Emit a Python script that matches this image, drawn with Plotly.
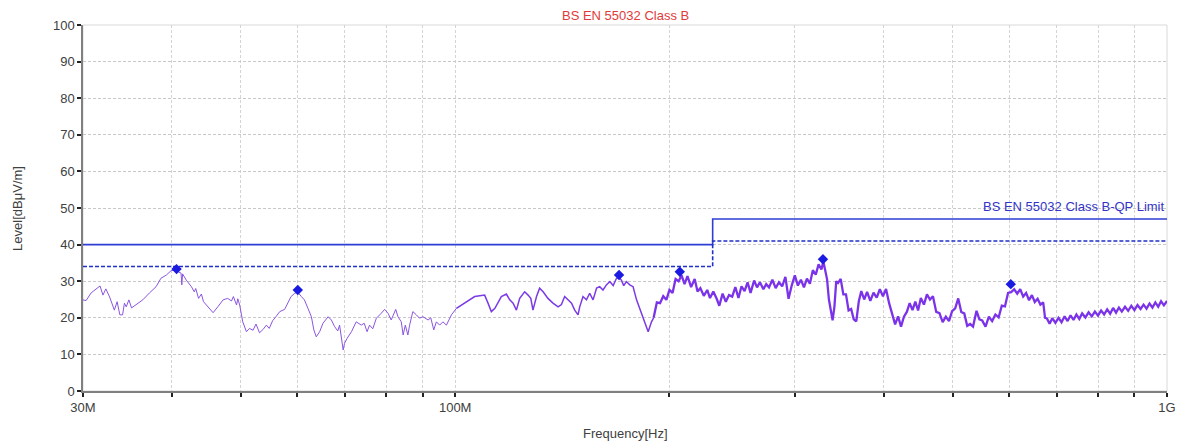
import numpy as np
import plotly.graph_objects as go

# ---------------- data (frequency in MHz, level in dBuV/m) ----------------
low_freq = [
    30.0, 30.3, 30.8, 31.4, 31.7, 32.0, 32.3, 32.7, 33.2, 33.5, 33.8, 34.1, 34.3, 34.5, 34.8, 35.1,
    35.6, 36.4, 37.2, 38.0, 38.6, 39.3, 39.9, 40.6, 40.8, 41.2, 41.3, 41.4, 41.9, 42.6, 43.0, 43.2,
    43.6, 44.0, 44.3, 44.7, 45.7, 46.4, 47.2, 47.9, 48.5, 48.8, 49.3, 49.5, 49.8, 50.3, 50.9, 51.4,
    52.0, 52.5, 53.1, 53.7, 54.3, 54.8, 55.4, 56.0, 56.7, 57.6, 58.2, 58.8, 59.5, 60.1, 60.8, 61.4,
    62.1, 62.8, 63.3, 63.8, 64.5, 65.2, 66.3, 67.0, 67.7, 68.4, 68.8, 69.2, 69.6, 69.9, 70.5, 71.5,
    72.6, 73.8, 74.5, 75.2, 75.8, 76.6, 77.5, 78.7, 79.6, 80.5, 81.3, 82.5, 83.1, 84.0, 84.5, 85.1,
    85.8, 86.3, 87.2, 88.2, 89.1, 90.1, 91.6, 92.4, 93.3, 94.1, 95.1, 96.1, 97.2, 98.8, 100.4,
]
low_level = [
    24.9, 24.7, 26.8, 28.1, 28.7, 26.2, 27.9, 25.7, 22.1, 24.4, 20.8, 20.8, 24.0, 23.0, 24.9, 22.7,
    23.5, 24.9, 26.8, 28.5, 30.8, 31.7, 32.9, 33.0, 32.6, 32.2, 29.0, 32.0, 30.3, 28.5, 27.1, 28.0,
    25.3, 26.5, 24.4, 23.5, 21.4, 23.0, 24.9, 25.3, 24.6, 25.8, 23.5, 25.2, 23.5, 18.9, 16.2, 17.1,
    16.6, 18.3, 15.9, 16.8, 18.0, 17.1, 19.2, 20.3, 21.7, 22.3, 24.0, 25.8, 26.7, 27.0, 25.8, 24.9,
    22.6, 20.3, 16.7, 14.8, 16.2, 18.5, 20.3, 19.4, 17.6, 16.4, 18.0, 14.4, 11.2, 13.0, 14.4, 16.2,
    18.9, 18.0, 18.5, 16.2, 18.0, 17.0, 19.9, 21.2, 22.3, 21.2, 19.4, 22.3, 20.3, 18.9, 15.3, 18.0,
    15.3, 18.0, 21.7, 20.8, 19.9, 20.3, 19.4, 20.0, 16.7, 18.9, 18.0, 18.9, 18.0, 20.8, 22.6,
]

mid_freq = [
    100.4, 102.0, 103.7, 104.8, 106.5, 108.3, 110.0, 111.2, 112.4, 113.7, 114.8, 116.1, 118.0, 119.3,
    120.6, 121.9, 123.2, 125.2, 126.6, 127.7, 128.6, 130.1, 131.4, 132.9, 135.0, 137.2, 139.5, 141.0,
    142.5, 144.1, 145.7, 147.2, 148.8, 149.6, 151.2, 152.9, 154.5, 156.2, 158.0, 159.6, 161.3, 163.1,
    164.9, 166.7, 168.5, 169.9, 171.2, 172.5, 174.0, 175.9, 177.8, 179.8, 181.7, 183.7, 185.7, 186.7,
    188.7, 190.0,
]
mid_level = [
    22.6, 23.5, 24.4, 24.9, 25.8, 26.0, 26.2, 24.0, 21.7, 22.6, 24.0, 25.8, 26.5, 24.9,
    24.0, 22.1, 25.3, 27.1, 26.2, 25.3, 22.1, 25.8, 28.1, 27.1, 25.3, 24.0, 23.0, 23.6,
    25.8, 24.9, 24.0, 22.1, 20.8, 23.0, 25.8, 24.9, 26.7, 24.9, 28.1, 28.5, 27.6, 29.0,
    29.9, 28.8, 30.8, 31.0, 30.3, 28.8, 29.9, 29.0, 28.5, 24.9, 22.6, 19.9, 17.6, 16.2,
    18.9, 20.0,
]

high_freq = [
    190, 192, 194, 196, 198, 200, 202, 204, 206, 208, 210, 212, 214.5, 217, 219, 221, 223.5, 226,
    228, 230.5, 233, 235, 237.5, 240, 242.5, 245, 247.5, 250, 252.5, 255, 257.5, 260, 263, 265.5,
    268, 271, 273.5, 276, 279, 282, 285, 288, 291, 294, 297, 300, 303, 306, 309, 312, 315, 318, 321,
    324, 327, 329, 331, 333, 335, 337, 339, 341, 343, 345, 348, 351, 354, 357, 360, 363, 366, 369,
    372, 375.5, 379, 383, 387, 391, 395, 399, 403, 407, 411, 415, 419, 423, 427, 431, 435, 439, 443,
    447, 451, 455.5, 460, 464.5, 469, 474, 479, 484, 489, 494, 499, 504, 509, 514, 519, 524, 529,
    534, 540, 545, 550, 556, 562, 568, 574, 580, 586, 592, 598, 604, 610, 616, 622, 628, 634, 640,
    646, 652, 658, 664, 670, 674, 678, 684, 690, 697, 704, 711, 718, 725, 732, 739, 746, 753, 760,
    768, 776, 784, 792, 800, 808, 816, 824, 832, 840, 848, 856, 864, 873, 882, 891, 900, 909, 918,
    927, 936, 945, 954, 963, 972, 981, 990, 1000,
]
high_level = [
    20.0, 24.2, 24.0, 25.9, 24.9, 27.6, 26.8, 30.6, 30.0, 31.6, 29.2, 31.4, 28.4, 30.6, 27.2, 28.1,
    26.0, 27.6, 25.4, 27.2, 25.2, 23.3, 26.6, 24.4, 26.2, 25.8, 28.4, 25.4, 28.6, 27.3, 29.7, 26.8,
    30.2, 28.3, 29.7, 27.8, 29.2, 28.3, 30.4, 28.1, 29.7, 28.6, 31.2, 25.2, 28.8, 31.6, 28.8, 30.4,
    28.3, 30.7, 29.3, 33.0, 31.8, 34.6, 33.2, 35.4, 33.0, 30.5, 25.0, 22.5, 19.3, 23.0, 30.0, 29.5,
    30.6, 26.4, 26.4, 22.0, 22.4, 19.6, 19.0, 24.5, 27.3, 25.0, 27.1, 24.6, 26.9, 25.5, 27.8, 25.9,
    27.9, 24.0, 21.3, 18.2, 20.4, 17.6, 20.3, 21.6, 24.0, 22.1, 24.4, 22.0, 25.4, 23.6, 26.4, 25.0,
    25.9, 21.6, 21.3, 18.8, 20.3, 19.1, 21.8, 22.6, 25.3, 21.6, 21.2, 17.8, 18.3, 17.6, 21.9, 19.6,
    19.3, 17.6, 20.3, 19.1, 20.9, 20.1, 23.3, 23.1, 26.8, 27.0, 27.8, 26.6, 27.8, 25.8, 26.8, 24.8,
    26.2, 24.3, 25.2, 23.6, 24.2, 20.0, 19.8, 18.4, 19.9, 18.6, 20.0, 18.8, 20.4, 19.1, 20.7, 19.4,
    20.9, 19.7, 21.2, 20.1, 21.5, 20.4, 21.7, 20.6, 22.0, 20.9, 22.3, 21.1, 22.7, 21.4, 22.8, 21.7,
    23.0, 21.9, 23.3, 22.1, 23.5, 22.4, 23.6, 22.5, 23.9, 22.8, 24.2, 23.0, 24.5, 23.4, 24.6,
]

peak_freq = [40.6, 60.1, 169.9, 206.8, 328.6, 603.3]
peak_level = [33.3, 27.6, 31.7, 32.6, 36.0, 29.2]

limit_freq = [30, 230, 230, 1000]
qp_limit = [40, 40, 47, 47]
qp_margin = [34, 34, 41, 41]

x_tickvals = [30, 40, 50, 60, 70, 80, 90, 100, 200, 300, 400, 500, 600, 700, 800, 900, 1000]
x_ticktext = ["30M", "", "", "", "", "", "", "100M", "", "", "", "", "", "", "", "", "1G"]
y_tickvals = [0, 10, 20, 30, 40, 50, 60, 70, 80, 90, 100]

TITLE = "BS EN 55032 Class B"
LIMIT_LABEL = "BS EN 55032 Class B-QP Limit"
X_TITLE = "Frequency[Hz]"
Y_TITLE = "Level[dBμV/m]"

# ---------------- figure ----------------
FONT = "Liberation Sans, Arial, sans-serif"
TXT = "#404040"

fig = go.Figure()

for fx, fy, w, col in [(low_freq, low_level, 1.0, "#8a55e2"),
                       (mid_freq, mid_level, 1.5, "#7a3ae6"),
                       (high_freq, high_level, 2.3, "#7b33ea")]:
    fig.add_trace(go.Scatter(x=fx, y=fy, mode="lines", line=dict(color=col, width=w),
                             showlegend=False, hoverinfo="skip"))

fig.add_trace(go.Scatter(x=limit_freq, y=qp_limit, mode="lines",
                         line=dict(color="#2f3fd6", width=1.6), showlegend=False))
fig.add_trace(go.Scatter(x=limit_freq, y=qp_margin, mode="lines",
                         line=dict(color="#2030c8", width=1.6, dash="4px,2px"), showlegend=False))
fig.add_trace(go.Scatter(x=peak_freq, y=peak_level, mode="markers",
                         marker=dict(symbol="diamond", size=8, color="#1a1ae0"), showlegend=False))

fig.add_annotation(text=TITLE, xref="paper", yref="paper", x=0.5, y=1, yanchor="middle",
                   yshift=10, showarrow=False, font=dict(family=FONT, size=13, color="#e23a3a"))
fig.add_annotation(text=LIMIT_LABEL, xref="paper", yref="y", x=1, y=qp_limit[-1],
                   xanchor="right", yanchor="bottom", yshift=3, showarrow=False,
                   font=dict(family=FONT, size=13, color="#3333c8"))
fig.add_annotation(text=X_TITLE, xref="paper", yref="paper", x=0.5, y=0, yanchor="middle",
                   yshift=-42, showarrow=False, font=dict(family=FONT, size=13, color=TXT))
fig.add_annotation(text=Y_TITLE, xref="paper", yref="paper", x=-0.061, y=0.5, xanchor="center",
                   yanchor="middle", textangle=-90, showarrow=False,
                   font=dict(family=FONT, size=13, color=TXT))

fig.add_shape(type="rect", xref="paper", yref="paper", x0=0, y0=0, x1=1, y1=1,
              line=dict(color="#d9d9d9", width=1), layer="below")

fig.update_layout(
    width=1179, height=441,
    margin=dict(l=83, r=12, t=25, b=50),
    paper_bgcolor="white", plot_bgcolor="white",
    font=dict(family=FONT, size=13, color=TXT),
    xaxis=dict(type="log", range=[np.log10(30), np.log10(1000)], automargin=False,
               tickvals=x_tickvals, ticktext=x_ticktext,
               showgrid=True, gridcolor="#d4d4d4", griddash="3px,2px", gridwidth=1,
               showline=True, linecolor="#808080", linewidth=1.5,
               ticks="outside", ticklen=4, tickcolor="#222", tickwidth=1.5,
               tickfont=dict(family=FONT, size=13, color=TXT), zeroline=False),
    yaxis=dict(range=[0, 100], tickvals=y_tickvals, automargin=False,
               showgrid=True, gridcolor="#c8c8c8", griddash="3px,2px", gridwidth=1,
               showline=True, linecolor="#808080", linewidth=1.5,
               ticks="outside", ticklen=4, tickcolor="#222", tickwidth=2,
               tickfont=dict(family=FONT, size=13, color=TXT), zeroline=False),
)

# remove the default 8px page margin so the 1179x441 figure fills the window exactly
fig.write_html("out.html",
               config={"displayModeBar": False},
               post_script="document.body.style.margin='0px';"
                           "document.body.style.overflow='hidden';")
